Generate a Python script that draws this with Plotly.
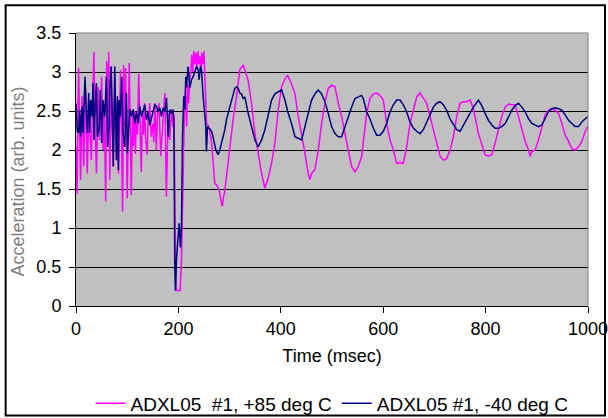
import plotly.graph_objects as go

# ---- data ----
t_hot = [0, 2, 5, 7, 9, 12, 15, 19, 22, 25, 28, 30, 32, 35, 37, 40, 43, 46, 50, 53, 55, 58, 60, 62, 64, 66, 69, 72,
         76, 79, 81, 83, 87, 91, 93, 95, 97, 100, 104, 106, 108, 110, 112, 114, 116, 118, 120, 122.5, 125, 127.5,
         130, 132, 134, 136, 139, 141, 144, 147, 150, 152, 154, 157, 159, 162, 165.5, 168, 171, 173.5, 176.5, 180,
         183, 186.5, 189.5, 191.5, 193.5, 195.5, 203.5, 206, 209, 212, 214, 216, 218, 220, 222, 224, 226, 228, 230,
         232, 234, 236, 238, 240, 242, 244, 246, 248, 250, 252, 255, 258, 261, 265, 268, 271, 275, 280, 284, 286,
         288, 290, 294, 297, 300.5, 307, 313.7, 320, 326.7, 330, 336.3, 342.8, 349.4, 355.9, 362.4, 368.9, 375.4,
         382, 388.5, 395, 401.5, 408, 413.2, 421, 427.6, 434.1, 440.6, 447.1, 453.6, 456.9, 460.1, 466.7, 473.2,
         479.7, 486.2, 492.7, 499.2, 505.8, 512.3, 518.8, 525.3, 531.8, 538.3, 544.9, 551.4, 557.9, 561.1, 567.6,
         574.2, 580.7, 587.2, 593.7, 600.2, 606.7, 613.3, 619.8, 626.3, 632.8, 639.3, 645.8, 652.4, 658.9, 665.4,
         671.9, 678.4, 684.9, 691.5, 698, 704.5, 711, 717.5, 724, 730.6, 737.1, 743.6, 750.1, 756.6, 763.1, 769.7,
         776.2, 786, 792.5, 799, 805.6, 812.1, 818.6, 825.1, 831.6, 838.2, 844.7, 851.2, 857.7, 864.2, 870.7,
         877.3, 883.8, 887, 890.3, 896.8, 903.3, 909.8, 916.4, 922.9, 929.4, 935.9, 942.4, 949, 955.5, 962,
         968.5, 975, 981.5, 988, 994.6, 1000]
v_hot = [2.04, 1.44, 3.05, 2.1, 1.62, 2.69, 1.79, 2.77, 1.70, 2.52, 2.2, 1.87, 2.5, 3.26, 2.3, 1.70, 2.81, 2.13, 2.94,
         2.00, 2.6, 1.34, 3.14, 2.5, 3.26, 1.62, 3.07, 1.79, 2.92, 1.92, 2.6, 1.70, 3.03, 1.21, 3.09, 2.3, 3.05,
         1.38, 3.12, 2.2, 1.42, 2.45, 2.05, 2.5, 1.95, 2.45, 2.2, 2.98, 2.2, 1.72, 2.5, 2.2, 2.6, 2.15, 1.94, 2.4,
         2.6, 2.17, 2.34, 2.1, 2.6, 2.0, 2.45, 2.6, 1.92, 2.17, 2.45, 2.73, 1.40, 2.47, 2.13, 2.52, 2.30, 2.45,
         1.2, 0.2, 0.2, 0.6, 1.6, 2.6, 2.75, 2.3, 2.85, 2.6, 2.9, 3.0, 3.22, 3.0, 3.27, 3.1, 3.25, 3.05, 3.27, 3.1,
         3.2, 3.0, 3.25, 3.1, 3.27, 2.95, 2.34, 2.32, 2.25, 2.09, 1.83, 1.57, 1.55, 1.48, 1.32, 1.28, 1.40, 1.45,
         1.66, 1.83, 2.04, 2.4, 2.69, 3.03, 3.09, 3.02, 2.89, 2.60, 2.21, 1.96, 1.70, 1.51, 1.64, 1.83, 2.09, 2.51,
         2.81, 2.91, 2.96, 2.85, 2.72, 2.43, 2.21, 1.96, 1.70, 1.62, 1.70, 1.75, 2.00, 2.34, 2.60, 2.79, 2.83,
         2.81, 2.60, 2.43, 2.21, 2.00, 1.79, 1.72, 1.79, 1.92, 2.13, 2.47, 2.66, 2.72, 2.73, 2.70, 2.64, 2.34,
         2.13, 2.00, 1.83, 1.84, 1.83, 2.04, 2.34, 2.51, 2.68, 2.73, 2.66, 2.60, 2.43, 2.26, 2.11, 1.92, 1.87,
         1.89, 2.00, 2.17, 2.43, 2.60, 2.62, 2.62, 2.64, 2.53, 2.21, 2.07, 1.94, 1.92, 1.94, 2.09, 2.26, 2.43,
         2.55, 2.59, 2.58, 2.58, 2.43, 2.28, 2.11, 2.00, 1.92, 1.98, 2.00, 2.13, 2.30, 2.45, 2.51, 2.53, 2.51,
         2.47, 2.34, 2.19, 2.11, 2.02, 2.00, 2.04, 2.11, 2.24, 2.31]

t_cold = [0, 2.6, 5.2, 7.2, 9.1, 11.7, 13.7, 15.6, 17.6, 20.2, 22.2, 24.8, 26.7, 28.7, 31.3, 33.2, 35.2, 37.8, 39.8,
          41.7, 45, 47.6, 50.2, 52.8, 56.1, 59.4, 62, 64.6, 65.9, 68.5, 71.1, 73, 75.7, 78.9, 80.9, 82.8, 84.1,
          86.7, 89.3, 91.9, 95.2, 98.5, 100.4, 103, 105, 108.2, 111.5, 114.8, 118, 121.3, 124.5, 127.8, 131,
          134.3, 137.6, 140.8, 144.1, 147.4, 150.6, 153.9, 157.1, 160.4, 163.7, 166.9, 170.2, 173.4, 176.7, 180,
          183.2, 186.5, 189.7, 191.2, 192.9, 194.2, 196.2, 199.4, 201.4, 204, 206, 208, 210.5, 212.5, 214.4,
          215.7, 219, 222.3, 225.5, 228.8, 232, 235.3, 238.5, 240.5, 243.1, 245.1, 248.3, 251.6, 253.5, 254.8,
          256.8, 260, 262.7, 265.9, 269.2, 273.1, 277.6, 280.9, 284.2, 287.4, 290.7, 293.9, 297.2, 300.5, 303.7,
          307, 310.2, 313.5, 316.8, 320, 323.3, 326.5, 329.8, 336.3, 342.8, 349.4, 355.9, 362.4, 368.9, 375.4,
          382, 388.5, 395, 401.5, 408, 414.5, 421, 427.6, 434.1, 440.6, 447.1, 453.6, 460.1, 466.7, 473.2, 479.7,
          486.2, 492.7, 499.2, 505.8, 512.3, 518.8, 525.3, 531.8, 538.3, 544.9, 551.4, 557.9, 561.1, 567.6,
          574.2, 580.7, 587.2, 593.7, 600.2, 606.7, 613.3, 619.8, 626.3, 632.8, 639.3, 645.8, 652.4, 658.9,
          665.4, 671.9, 678.4, 684.9, 691.5, 698, 704.5, 711, 717.5, 724, 730.6, 737.1, 743.6, 750.1, 756.6,
          763.1, 769.7, 776.2, 786, 792.5, 799, 805.6, 812.1, 818.6, 825.1, 831.6, 838.2, 844.7, 851.2, 857.7,
          864.2, 870.7, 877.3, 883.8, 890.3, 896.8, 903.3, 909.8, 916.4, 922.9, 929.4, 935.9, 942.4, 949, 955.5,
          962, 968.5, 975, 981.5, 988, 994.6, 1000]
v_cold = [2.60, 2.24, 2.22, 2.51, 2.17, 2.56, 2.22, 2.69, 2.94, 2.47, 2.22, 2.73, 2.22, 2.64, 2.43, 2.86, 2.13,
          2.64, 2.86, 2.17, 2.26, 2.77, 2.09, 2.64, 2.43, 2.94, 2.04, 2.30, 2.77, 3.07, 2.04, 1.79, 3.07, 1.87,
          2.69, 1.74, 2.64, 2.43, 2.94, 2.22, 2.04, 2.73, 1.96, 2.34, 2.52, 2.43, 2.52, 2.34, 2.49, 2.34, 2.56,
          2.43, 2.52, 2.58, 2.39, 2.49, 2.32, 2.41, 2.52, 2.58, 2.56, 2.49, 2.54, 2.43, 2.54, 2.49, 2.67, 2.17,
          2.52, 2.47, 2.52, 2.35, 0.55, 0.2, 0.59, 0.89, 1.06, 0.75, 1.02, 2.17, 2.69, 2.52, 2.94, 2.8, 3.07, 2.8,
          2.9, 2.94, 3.0, 3.07, 3.03, 2.9, 3.07, 3.03, 2.69, 2.45, 2.30, 1.98, 2.30, 2.28, 2.26, 2.22, 2.13, 2.0,
          1.94, 2.0, 2.09, 2.17, 2.26, 2.39, 2.47, 2.56, 2.64, 2.73, 2.79, 2.81, 2.79, 2.73, 2.72, 2.66, 2.68,
          2.47, 2.30, 2.13, 2.04, 2.13, 2.26, 2.47, 2.64, 2.72, 2.75, 2.77, 2.64, 2.47, 2.34, 2.17, 2.15, 2.13,
          2.30, 2.47, 2.64, 2.72, 2.77, 2.72, 2.62, 2.47, 2.30, 2.21, 2.17, 2.17, 2.30, 2.45, 2.55, 2.66, 2.68,
          2.70, 2.66, 2.49, 2.40, 2.28, 2.19, 2.19, 2.24, 2.34, 2.49, 2.58, 2.64, 2.64, 2.58, 2.49, 2.36, 2.28,
          2.24, 2.21, 2.26, 2.36, 2.47, 2.55, 2.60, 2.62, 2.58, 2.51, 2.40, 2.32, 2.26, 2.24, 2.32, 2.40, 2.49,
          2.55, 2.64, 2.57, 2.47, 2.38, 2.32, 2.28, 2.28, 2.30, 2.34, 2.43, 2.51, 2.57, 2.60, 2.55, 2.49, 2.40,
          2.34, 2.32, 2.30, 2.32, 2.40, 2.49, 2.53, 2.54, 2.53, 2.51, 2.45, 2.38, 2.34, 2.30, 2.30, 2.36, 2.40,
          2.43]

name_hot = "ADXL05  #1, +85 deg C"
name_cold = "ADXL05 #1, -40 deg C"
x_title = "Time (msec)"
y_title = "Acceleration (arb. units)"

x_ticks = [0, 200, 400, 600, 800, 1000]
y_ticks = [0, 0.5, 1, 1.5, 2, 2.5, 3, 3.5]
y_tick_labels = ["0", "0.5", "1", "1.5", "2", "2.5", "3", "3.5"]

FONT = "Liberation Sans, Arial, sans-serif"

fig = go.Figure()
fig.add_trace(go.Scatter(x=t_hot, y=v_hot, mode="lines", name=name_hot,
                         line=dict(color="#FF00FF", width=1.5)))
fig.add_trace(go.Scatter(x=t_cold, y=v_cold, mode="lines", name=name_cold,
                         line=dict(color="#000080", width=1.5)))

fig.update_layout(
    width=608, height=418,
    margin=dict(l=76, r=20, t=33, b=112, autoexpand=False),
    paper_bgcolor="white",
    plot_bgcolor="#C0C0C0",
    font=dict(family=FONT, size=18, color="black"),
    showlegend=True,
    legend=dict(orientation="h", x=0.5, xanchor="center", y=-0.357, yanchor="middle",
                font=dict(size=19), bgcolor="rgba(0,0,0,0)", itemwidth=30,
                tracegroupgap=0),
    xaxis=dict(range=[0, 1000], tickvals=x_ticks, ticks="outside", ticklen=6, tickcolor="black",
               showline=True, linecolor="black", linewidth=1, showgrid=False, zeroline=False,
               tickfont=dict(size=18), automargin=False, ticklabeloverflow="allow",
               title=dict(text=x_title, font=dict(size=18, color="black"), standoff=11)),
    yaxis=dict(range=[0, 3.5], tickvals=y_ticks, ticktext=y_tick_labels, ticks="outside", ticklen=6,
               tickcolor="black", showline=True, linecolor="black", linewidth=1,
               showgrid=True, gridcolor="black", gridwidth=1, zeroline=False,
               tickfont=dict(size=18), automargin=False, ticklabelstandoff=4),
    annotations=[
        dict(text=y_title, xref="paper", yref="paper", x=-0.1152, y=0.456, xanchor="center", yanchor="middle",
             textangle=-90, showarrow=False, font=dict(size=18, color="#808080")),
    ],
    shapes=[
        dict(type="line", xref="paper", yref="paper", x0=0, x1=1, y0=1, y1=1,
             line=dict(color="#808080", width=1), layer="above"),
        dict(type="line", xref="paper", yref="paper", x0=1, x1=1, y0=0, y1=1,
             line=dict(color="#808080", width=1), layer="above"),
        dict(type="rect", xref="paper", yref="paper", x0=-0.1374, x1=1.0332, y0=-0.401, y1=1.102,
             line=dict(color="black", width=2), layer="below"),
    ],
)

fig.write_html("out.html", config={"displayModeBar": False},
               post_script="document.body.style.margin='0';document.body.style.padding='0';")
